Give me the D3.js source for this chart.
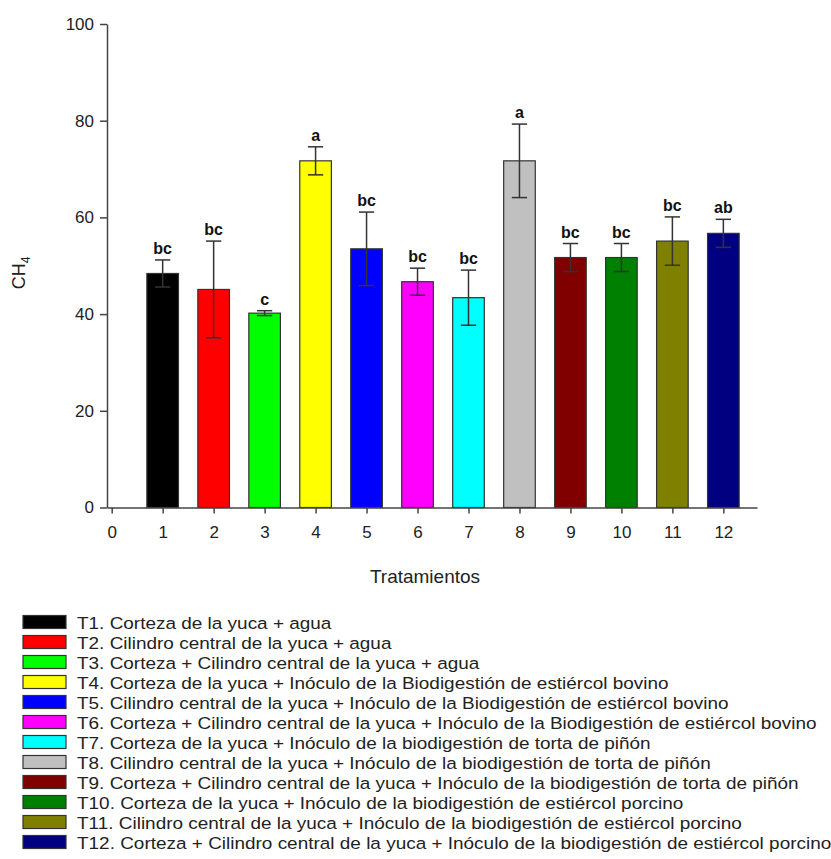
<!DOCTYPE html>
<html>
<head>
<meta charset="utf-8">
<script src="https://cdn.jsdelivr.net/npm/d3@7"></script>
<style>
  body { margin: 0; background: #fff; }
  svg { display: block; font-family: "Liberation Sans", Arial, sans-serif; }
</style>
</head>
<body>
<div id="chart"></div>
<script>
// tratamientos 1..12, media de CH4 y error
const treatments = [1, 2, 3, 4, 5, 6, 7, 8, 9, 10, 11, 12];
const ch4Means = [48.4, 45.1, 40.2, 71.7, 53.5, 46.7, 43.4, 71.7, 51.7, 51.7, 55.1, 56.7];
const ch4Errors = [2.8, 10.0, 0.5, 2.9, 7.6, 2.8, 5.7, 7.6, 2.9, 2.9, 5.0, 2.9];
const groupLetters = ['bc', 'bc', 'c', 'a', 'bc', 'bc', 'bc', 'a', 'bc', 'bc', 'bc', 'ab'];
const barColors = ['#000000', '#ff0000', '#00ff00', '#ffff00', '#0000ff', '#ff00ff',
                   '#00ffff', '#c0c0c0', '#800000', '#008000', '#808000', '#000080'];
const xTicks = [0, 1, 2, 3, 4, 5, 6, 7, 8, 9, 10, 11, 12];
const yTicks = [0, 20, 40, 60, 80, 100];
const legendLabels = [
  'T1. Corteza de la yuca + agua',
  'T2. Cilindro central de la yuca + agua',
  'T3. Corteza + Cilindro central de la yuca + agua',
  'T4. Corteza de la yuca + Inóculo de la Biodigestión de estiércol bovino',
  'T5. Cilindro central de la yuca + Inóculo de la Biodigestión de estiércol bovino',
  'T6. Corteza + Cilindro central de la yuca + Inóculo de la Biodigestión de estiércol bovino',
  'T7. Corteza de la yuca + Inóculo de la biodigestión de torta de piñón',
  'T8. Cilindro central de la yuca + Inóculo de la biodigestión de torta de piñón',
  'T9. Corteza + Cilindro central de la yuca + Inóculo de la biodigestión de torta de piñón',
  'T10. Corteza de la yuca + Inóculo de la biodigestión de estiércol porcino',
  'T11. Cilindro central de la yuca + Inóculo de la biodigestión de estiércol porcino',
  'T12. Corteza + Cilindro central de la yuca + Inóculo de la biodigestión de estiércol porcino'
];

const width = 831, height = 859;
const axisColor = '#444';

const svg = d3.select('#chart').append('svg')
  .attr('width', width)
  .attr('height', height);

// escalas
const x = d3.scaleLinear().domain([-0.092, 12.66]).range([107, 757]);
const y = d3.scaleLinear().domain([0, 100]).range([507.5, 24]);
const barW = 0.62;

const data = treatments.map((t, i) => ({
  t, mean: ch4Means[i], err: ch4Errors[i], letter: groupLetters[i], color: barColors[i]
}));

// barras
svg.append('g').selectAll('rect')
  .data(data)
  .enter().append('rect')
  .attr('x', d => x(d.t - barW / 2))
  .attr('width', d => x(d.t + barW / 2) - x(d.t - barW / 2))
  .attr('y', d => y(d.mean))
  .attr('height', d => y(0) - y(d.mean))
  .attr('fill', d => d.color)
  .attr('stroke', '#333')
  .attr('stroke-width', 1.2);

// barras de error
const capHalf = 0.15;
const err = svg.append('g').attr('stroke', '#333').attr('stroke-width', 1.5);
data.forEach(d => {
  err.append('line')
    .attr('x1', x(d.t)).attr('x2', x(d.t))
    .attr('y1', y(d.mean + d.err)).attr('y2', y(d.mean - d.err));
  [d.mean + d.err, d.mean - d.err].forEach(v => {
    err.append('line')
      .attr('x1', x(d.t - capHalf)).attr('x2', x(d.t + capHalf))
      .attr('y1', y(v)).attr('y2', y(v));
  });
});

// letras de significancia
svg.append('g').selectAll('text')
  .data(data)
  .enter().append('text')
  .attr('x', d => x(d.t))
  .attr('y', d => y(d.mean + d.err) - 6)
  .attr('text-anchor', 'middle')
  .attr('font-size', 16)
  .attr('font-weight', 'bold')
  .attr('fill', '#111')
  .text(d => d.letter);

// ejes
const xAxis = svg.append('g')
  .attr('transform', `translate(0,${y(0)})`)
  .call(d3.axisBottom(x).tickValues(xTicks).tickSize(6).tickPadding(12).tickSizeOuter(0));
const yAxis = svg.append('g')
  .attr('transform', `translate(${x.range()[0]},0)`)
  .call(d3.axisLeft(y).tickValues(yTicks).tickSize(7).tickPadding(6).tickSizeOuter(0));

[xAxis, yAxis].forEach(g => {
  g.select('.domain').attr('stroke', axisColor).attr('stroke-width', 1.5);
  g.selectAll('.tick line').attr('stroke', axisColor).attr('stroke-width', 1.5);
  g.selectAll('.tick text')
    .attr('font-size', 17)
    .attr('font-family', '"Liberation Sans", Arial, sans-serif')
    .attr('fill', '#222');
});

// títulos
svg.append('text')
  .attr('x', 425)
  .attr('y', 583)
  .attr('text-anchor', 'middle')
  .attr('font-size', 19)
  .attr('fill', '#222')
  .text('Tratamientos');

const yTitle = svg.append('text')
  .attr('transform', 'translate(25,273) rotate(-90)')
  .attr('text-anchor', 'middle')
  .attr('font-size', 18)
  .attr('fill', '#222');
yTitle.append('tspan').text('CH');
yTitle.append('tspan').attr('font-size', 12).attr('dy', 5).text('4');

// leyenda
const legend = svg.append('g').attr('transform', 'translate(23,622)');
const rows = legend.selectAll('g')
  .data(legendLabels)
  .enter().append('g')
  .attr('transform', (d, i) => `translate(0,${i * 20})`);
rows.append('rect')
  .attr('x', 0).attr('y', -6.5)
  .attr('width', 43).attr('height', 13)
  .attr('fill', (d, i) => barColors[i])
  .attr('stroke', '#333')
  .attr('stroke-width', 1.2);
// el texto de la leyenda es más ancho que alto en el original
rows.append('text')
  .attr('transform', 'translate(54,6.5) scale(1.115,1)')
  .attr('font-size', 17)
  .attr('fill', '#222')
  .text(d => d);
</script>
</body>
</html>
